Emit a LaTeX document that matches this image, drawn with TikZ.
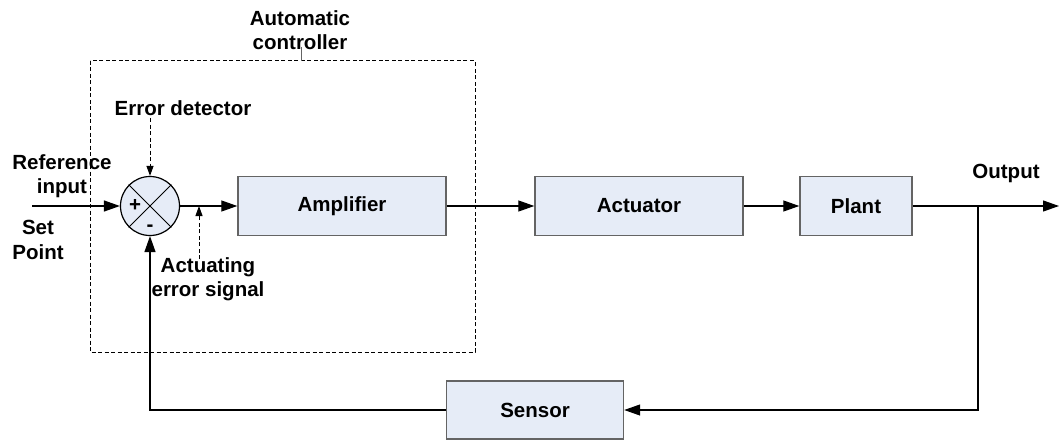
\documentclass[tikz,border=0pt]{standalone}
\usepackage{fontspec}
\setmainfont{Liberation Sans}
\usetikzlibrary{arrows.meta}
\definecolor{boxfill}{RGB}{230,236,247}
\definecolor{boxline}{RGB}{100,100,100}
\newcommand\dgfont{\fontsize{20.5}{24.5}\selectfont\bfseries}
\tikzset{
  blk/.style={draw=boxline, line width=1.4pt, fill=boxfill, font=\dgfont, inner sep=0pt},
  lbl/.style={font=\dgfont, align=center, inner sep=0pt},
  sgn/.style={font=\dgfont, inner sep=0pt},
  sig/.style={line width=1.2pt, -{Triangle[length=16pt,width=11pt]}},
  dsig/.style={line width=1pt, dash pattern=on 4pt off 2.5pt, -{Triangle[length=10pt,width=7pt]}},
  ctl/.style={line width=1pt, dash pattern=on 4pt off 2.5pt},
}
\begin{document}
\begin{tikzpicture}[x=1pt,y=-1pt]
\useasboundingbox (0,0) rectangle (1059,441);
% controller dashed box
\draw[ctl] (90,61) rectangle (475,352);
\node[lbl] (ac) at (300,30) {Automatic\\controller};
\coordinate (acl) at (301,47);
\coordinate (act0) at (301,61);
\draw[line width=0.9pt, boxline] (acl) -- (act0);
% blocks
\node[circle, draw=black, line width=1.2pt, fill=boxfill, minimum size=59pt, inner sep=0pt] (sum) at (150,206) {};
\draw[line width=1pt] (sum.north west) -- (sum.south east) (sum.north east) -- (sum.south west);
\node[sgn] (plus) at (135,205) {+};
\node[sgn] (minus) at (150,228) {-};
\node[blk, minimum width=208pt, minimum height=59pt] (amp) at (342,206) {Amplifier};
\node[blk, minimum width=208pt, minimum height=59pt] (act) at (639,206) {Actuator};
\node[blk, minimum width=112pt, minimum height=59pt] (plant) at (856,206) {Plant};
\node[blk, minimum width=177pt, minimum height=58pt] (sensor) at (535,410) {Sensor};
% labels
\node[lbl] (ref) at (62,176) {Reference\\input};
\node[lbl] (sp) at (38,240) {Set\\Point};
\node[lbl] (ed) at (183,108) {Error detector};
\node[lbl] (aes) at (208,279) {Actuating\\error signal};
\node[lbl] (out) at (1006,173) {Output};
% coordinates
\coordinate (in) at (32,206);
\coordinate (br) at (978,206);
\coordinate (end) at (1059,206);
\coordinate (fb) at (978,410);
\coordinate (fbl) at (150,410);
\coordinate (eds) at (150,118);
\coordinate (aess) at (199,259);
\coordinate (aesm) at (199,206);
% connectors
\draw[sig] (in) -- (sum.west);
\draw[sig] (sum.east) -- (amp.west);
\draw[sig] (amp.east) -- (act.west);
\draw[sig] (act.east) -- (plant.west);
\draw[sig] (plant.east) -- (end);
\draw[sig] (br) -- (fb) -- (sensor.east);
\draw[sig] (sensor.west) -- (fbl) -- (sum.south);
\draw[dsig] (eds) -- (sum.north);
\draw[dsig] (aess) -- (aesm);
\end{tikzpicture}
\end{document}
